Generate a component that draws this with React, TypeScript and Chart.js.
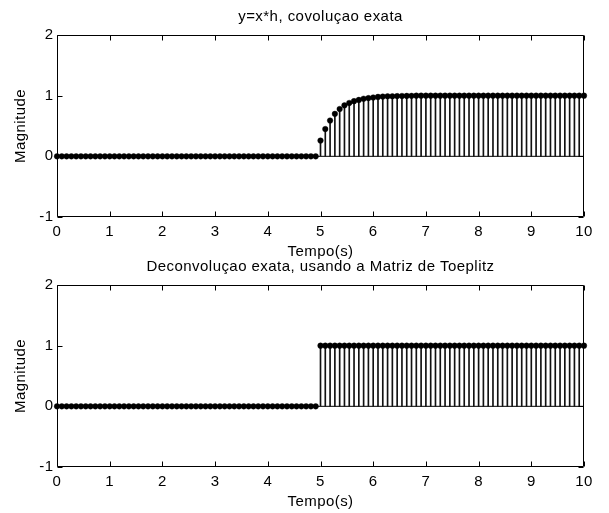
import React, { useEffect, useRef } from "react";
import { Chart, registerables } from "chart.js";

Chart.register(...registerables);

// ---- data ----
const SAMPLES_PER_SECOND = 11; // sample spacing (11 stems per second)
const X_TICKS = [0, 1, 2, 3, 4, 5, 6, 7, 8, 9, 10];
const Y_TICKS = [-1, 0, 1, 2];

const TITLE_TOP = "y=x*h, covoluçao exata";
const TITLE_BOTTOM = "Deconvoluçao exata, usando a Matriz de Toeplitz";
const X_LABEL = "Tempo(s)";
const Y_LABEL = "Magnitude";

// y = x*h (exact convolution), samples 0..110
const convValues = [
  0, 0, 0, 0, 0, 0, 0, 0, 0, 0, 0,
  0, 0, 0, 0, 0, 0, 0, 0, 0, 0, 0,
  0, 0, 0, 0, 0, 0, 0, 0, 0, 0, 0,
  0, 0, 0, 0, 0, 0, 0, 0, 0, 0, 0,
  0, 0, 0, 0, 0, 0, 0, 0, 0, 0, 0,
  0.26, 0.45, 0.59, 0.7, 0.78, 0.84, 0.88, 0.91, 0.93, 0.95, 0.96,
  0.97, 0.98, 0.985, 0.99, 0.99, 0.993, 0.995, 0.996, 0.997, 1, 1,
  1, 1, 1, 1, 1, 1, 1, 1, 1, 1, 1,
  1, 1, 1, 1, 1, 1, 1, 1, 1, 1, 1,
  1, 1, 1, 1, 1, 1, 1, 1, 1, 1, 1,
  1,
];

// exact deconvolution via Toeplitz matrix, samples 0..110
const deconvValues = [
  0, 0, 0, 0, 0, 0, 0, 0, 0, 0, 0,
  0, 0, 0, 0, 0, 0, 0, 0, 0, 0, 0,
  0, 0, 0, 0, 0, 0, 0, 0, 0, 0, 0,
  0, 0, 0, 0, 0, 0, 0, 0, 0, 0, 0,
  0, 0, 0, 0, 0, 0, 0, 0, 0, 0, 0,
  1, 1, 1, 1, 1, 1, 1, 1, 1, 1, 1,
  1, 1, 1, 1, 1, 1, 1, 1, 1, 1, 1,
  1, 1, 1, 1, 1, 1, 1, 1, 1, 1, 1,
  1, 1, 1, 1, 1, 1, 1, 1, 1, 1, 1,
  1, 1, 1, 1, 1, 1, 1, 1, 1, 1, 1,
  1,
];

const FONT_FAMILY = "'Liberation Sans', Arial, Helvetica, sans-serif";
const FONT = { family: FONT_FAMILY, size: 15, lineHeight: 1.2 };
const LETTER_SPACING = "0.45px";

const framePlugin = {
  id: "matlabFrame",
  beforeLayout(chart: any) {
    (chart.ctx as any).letterSpacing = LETTER_SPACING;
  },
  beforeDraw(chart: any) {
    (chart.ctx as any).letterSpacing = LETTER_SPACING;
  },
  afterDraw(chart: any) {
    const { ctx, chartArea: a, scales } = chart;
    const x = scales.x;
    const y = scales.y;
    ctx.save();
    ctx.strokeStyle = "#000";
    ctx.lineWidth = 1;
    const L = Math.round(a.left) + 0.5;
    const R = Math.round(a.right) - 0.5;
    const T = Math.round(a.top) + 0.5;
    const B = Math.round(a.bottom) - 0.5;
    ctx.beginPath();
    ctx.rect(L, T, R - L, B - T);
    const len = 5;
    X_TICKS.forEach((v) => {
      const px = Math.round(x.getPixelForValue(v)) + 0.5;
      ctx.moveTo(px, B);
      ctx.lineTo(px, B - len);
      ctx.moveTo(px, T);
      ctx.lineTo(px, T + len);
    });
    Y_TICKS.forEach((v) => {
      const py = Math.round(y.getPixelForValue(v)) + 0.5;
      ctx.moveTo(L, py);
      ctx.lineTo(L + len, py);
      ctx.moveTo(R, py);
      ctx.lineTo(R - len, py);
    });
    ctx.stroke();
    ctx.restore();
  },
};

type PanelCfg = {
  title: string;
  values: number[];
  topHeight: number;
  titleTop: number;
  xAxisHeight: number;
  xTitleBottom: number;
};

function makeChart(canvas: HTMLCanvasElement, cfg: PanelCfg) {
  const points = cfg.values.map((v, i) => ({ x: i / SAMPLES_PER_SECOND, y: v }));
  const baseline = [
    { x: points[0].x, y: 0 },
    { x: points[points.length - 1].x, y: 0 },
  ];
  return new Chart(canvas, {
    type: "bar",
    data: {
      datasets: [
        {
          type: "line",
          data: baseline,
          borderColor: "#000",
          borderWidth: 1,
          pointRadius: 0,
          order: 3,
        } as any,
        {
          type: "bar",
          data: points,
          backgroundColor: "#111",
          borderWidth: 0,
          barThickness: 1,
          order: 2,
        } as any,
        {
          type: "scatter",
          data: points,
          backgroundColor: "#000",
          borderColor: "#000",
          pointRadius: 2.8,
          pointBorderWidth: 0.4,
          clip: false,
          order: 1,
        } as any,
      ],
    },
    options: {
      responsive: false,
      maintainAspectRatio: false,
      animation: false,
      events: [],
      layout: { padding: { left: 0, right: 25, top: 0, bottom: 0 } },
      plugins: {
        legend: { display: false },
        tooltip: { enabled: false },
        title: { display: false },
      },
      scales: {
        x: {
          type: "linear",
          position: "bottom",
          min: 0,
          max: 10,
          offset: false,
          grid: { display: false, drawTicks: false },
          border: { display: false },
          ticks: {
            stepSize: 1,
            color: "#000",
            font: FONT,
            padding: 5.7,
            maxRotation: 0,
            autoSkip: false,
          },
          title: {
            display: true,
            text: X_LABEL,
            color: "#000",
            font: FONT,
            padding: { top: 0, bottom: cfg.xTitleBottom },
          },
          afterFit: (s: any) => {
            s.height = cfg.xAxisHeight;
          },
        },
        xTop: {
          type: "linear",
          position: "top",
          display: true,
          min: 0,
          max: 10,
          offset: false,
          grid: { display: false, drawTicks: false },
          border: { display: false },
          ticks: { display: false },
          title: {
            display: true,
            text: cfg.title,
            color: "#000",
            font: FONT,
            padding: { top: cfg.titleTop, bottom: 0 },
          },
          afterFit: (s: any) => {
            s.height = cfg.topHeight;
          },
        },
        y: {
          type: "linear",
          min: -1,
          max: 2,
          grid: { display: false, drawTicks: false },
          border: { display: false },
          ticks: {
            stepSize: 1,
            color: "#000",
            font: FONT,
            padding: 3.5,
          },
          title: {
            display: true,
            text: Y_LABEL,
            color: "#000",
            font: FONT,
            padding: { top: 12, bottom: 0 },
          },
          afterFit: (s: any) => {
            s.width = 57;
          },
        },
      },
    } as any,
    plugins: [framePlugin],
  });
}

export default function App() {
  const topRef = useRef<HTMLCanvasElement>(null);
  const botRef = useRef<HTMLCanvasElement>(null);

  useEffect(() => {
    const c1 = makeChart(topRef.current!, {
      title: TITLE_TOP,
      values: convValues,
      topHeight: 35,
      titleTop: 8,
      xAxisHeight: 48,
      xTitleBottom: 4,
    });
    const c2 = makeChart(botRef.current!, {
      title: TITLE_BOTTOM,
      values: deconvValues,
      topHeight: 45,
      titleTop: 18,
      xAxisHeight: 46,
      xTitleBottom: 2,
    });
    return () => {
      c1.destroy();
      c2.destroy();
    };
  }, []);

  return (
    <div style={{ position: "absolute", left: 0, top: 0, width: 609, height: 513, background: "#fff" }}>
      <canvas ref={topRef} width={609} height={265} style={{ position: "absolute", left: 0, top: 0 }} />
      <canvas ref={botRef} width={609} height={273} style={{ position: "absolute", left: 0, top: 240 }} />
    </div>
  );
}
